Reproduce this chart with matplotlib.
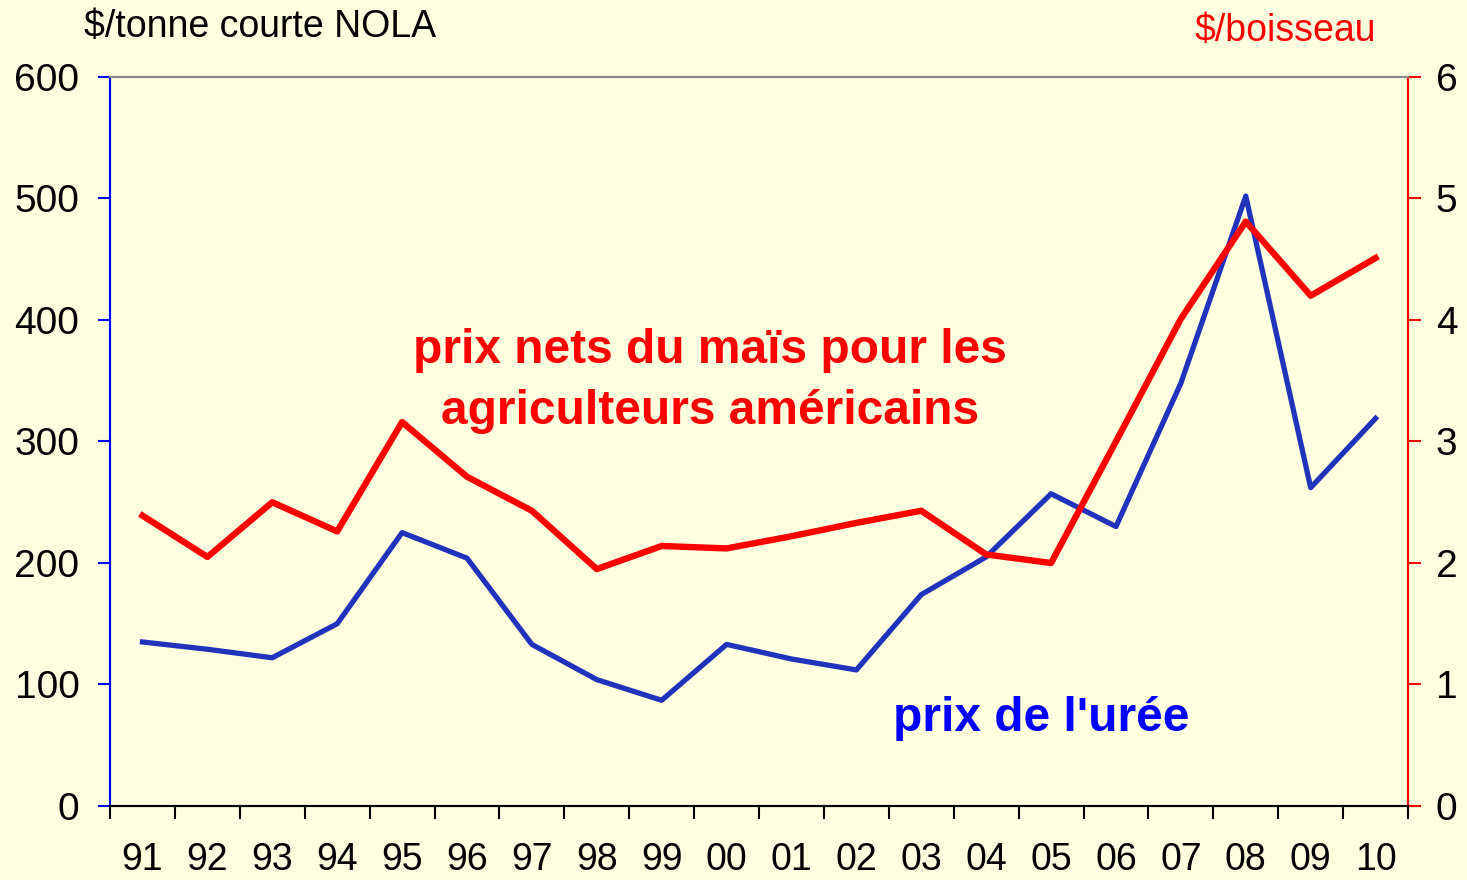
import numpy as np
import matplotlib
matplotlib.use("Agg")
import matplotlib.pyplot as plt
from matplotlib.ticker import FixedLocator, NullFormatter

plt.rcParams["font.family"] = ["Liberation Sans", "DejaVu Sans"]

years = ["91", "92", "93", "94", "95", "96", "97", "98", "99", "00",
         "01", "02", "03", "04", "05", "06", "07", "08", "09", "10"]
# prix de l'urée, $/tonne courte NOLA (axe gauche)
uree = [135, 129, 122, 150, 225, 204, 133, 104, 87, 133,
        121, 112, 174, 205, 257, 230, 348, 502, 262, 319]
# prix nets du maïs, $/boisseau (axe droit)
mais = [2.39, 2.05, 2.50, 2.26, 3.16, 2.71, 2.43, 1.95, 2.14, 2.12,
        2.22, 2.33, 2.43, 2.07, 2.00, 3.00, 4.01, 4.81, 4.20, 4.51]

BG = "#FFFFE0"
BLUE_LINE = "#2233BB"

fig = plt.figure(figsize=(14.67, 8.80), dpi=100, facecolor=BG)
ax = fig.add_axes([0.075, 0.0841, 0.8848, 0.8284], facecolor=BG)
ax2 = ax.twinx()

x = np.arange(len(years))
ax.plot(x, uree, color=BLUE_LINE, linewidth=3.8, zorder=3)
ax2.plot(x, mais, color="#FF0000", linewidth=4.6, zorder=3)

ax.set_xlim(-0.5, len(years) - 0.5)
ax.set_ylim(0, 600)
ax2.set_ylim(0, 6)
ax.set_yticks(range(0, 601, 100))
ax2.set_yticks(range(0, 7))

# x ticks: marks at boundaries, labels at centres
ax.xaxis.set_major_locator(FixedLocator(x))
ax.set_xticklabels(years)
ax.xaxis.set_minor_locator(FixedLocator(np.arange(-0.5, len(years), 1.0)))
ax.xaxis.set_minor_formatter(NullFormatter())
ax.tick_params(axis="x", which="major", length=0, pad=26, labelsize=27)
ax.tick_params(axis="x", which="minor", length=9, width=1.5, color="black",
               direction="out")

ax.tick_params(axis="y", length=9, width=1.5, color="#0000FF", pad=13,
               labelsize=28, direction="out")
ax2.tick_params(axis="y", length=9, width=1.5, color="#FF0000", pad=11,
                labelsize=28, direction="out")

for a in (ax, ax2):
    a.spines["top"].set_color("#888888")
    a.spines["top"].set_linewidth(1.5)
    a.spines["bottom"].set_color("black")
    a.spines["bottom"].set_linewidth(1.5)
    a.spines["left"].set_color("#0000FF")
    a.spines["left"].set_linewidth(1.5)
    a.spines["right"].set_color("#FF0000")
    a.spines["right"].set_linewidth(1.5)

fig.text(0.057, 0.969, "$/tonne courte NOLA", fontsize=27, color="black",
         ha="left", va="center")
fig.text(0.938, 0.965, "$/boisseau", fontsize=27, color="#FF0000",
         ha="right", va="center")

ax.text(8.75, 350, "prix nets du maïs pour les\nagriculteurs américains",
        color="#FF0000", fontsize=34.5, fontweight="bold", ha="center",
        va="center", linespacing=1.45, zorder=4)
ax.text(13.84, 72, "prix de l'urée", color="#0000FF", fontsize=34.5,
        fontweight="bold", ha="center", va="center", zorder=4)

fig.savefig("out.png", dpi=100, facecolor=BG)
